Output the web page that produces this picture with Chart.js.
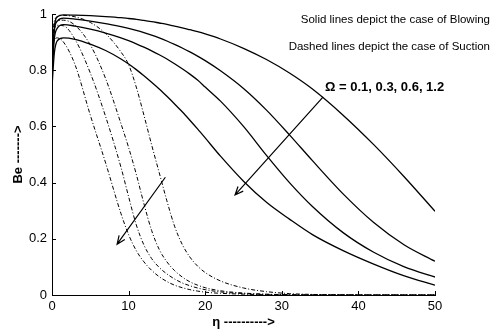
<!DOCTYPE html>
<html>
<head>
<meta charset="utf-8">
<script src="https://cdn.jsdelivr.net/npm/chart.js@4.4.1/dist/chart.umd.min.js"></script>
<style>
  html, body { margin: 0; padding: 0; background: #fff; }
</style>
</head>
<body>
<canvas id="be" width="495" height="330"></canvas>
<script>
// eta grid shared by every curve
const eta = [0, 0.3, 0.7, 1.5, 3, 5, 7, 9, 10, 11, 12, 13, 14, 15, 16, 17, 18, 19, 20, 22, 25, 28, 31, 34, 38, 42, 46, 50];

// blowing (solid), omega = 0.1, 0.3, 0.6, 1.2
const blow01 = [0.80, 0.95, 0.99, 0.997, 0.996, 0.994, 0.991, 0.987, 0.984, 0.981, 0.977, 0.973, 0.968, 0.963, 0.957, 0.951, 0.944, 0.937, 0.929, 0.911, 0.878, 0.838, 0.79, 0.733, 0.64, 0.535, 0.42, 0.298];
const blow03 = [0.80, 0.94, 0.975, 0.985, 0.982, 0.975, 0.966, 0.955, 0.949, 0.942, 0.934, 0.925, 0.915, 0.904, 0.892, 0.879, 0.865, 0.85, 0.834, 0.798, 0.735, 0.658, 0.57, 0.478, 0.36, 0.258, 0.178, 0.12];
const blow06 = [0.78, 0.91, 0.95, 0.962, 0.957, 0.946, 0.932, 0.915, 0.905, 0.894, 0.882, 0.869, 0.855, 0.84, 0.823, 0.805, 0.786, 0.765, 0.74, 0.69, 0.6, 0.497, 0.40, 0.315, 0.222, 0.152, 0.10, 0.064];
const blow12 = [0.74, 0.86, 0.905, 0.915, 0.91, 0.893, 0.87, 0.84, 0.822, 0.802, 0.78, 0.757, 0.733, 0.707, 0.68, 0.652, 0.622, 0.591, 0.559, 0.494, 0.405, 0.33, 0.27, 0.215, 0.158, 0.11, 0.068, 0.035];

// suction (dash-dot), omega = 0.1, 0.3, 0.6, 1.2
const suck01 = [0.92, 0.975, 0.99, 0.995, 0.99, 0.97, 0.93, 0.865, 0.82, 0.74, 0.64, 0.535, 0.435, 0.335, 0.245, 0.18, 0.135, 0.103, 0.08, 0.05, 0.025, 0.012, 0.005, 0.002, 0.001, 0, 0, 0];
const suck03 = [0.90, 0.96, 0.975, 0.978, 0.96, 0.89, 0.77, 0.61, 0.525, 0.43, 0.325, 0.23, 0.162, 0.118, 0.087, 0.064, 0.047, 0.035, 0.026, 0.015, 0.007, 0.003, 0.001, 0, 0, 0, 0, 0];
const suck06 = [0.88, 0.945, 0.96, 0.958, 0.91, 0.79, 0.635, 0.455, 0.35, 0.25, 0.178, 0.13, 0.098, 0.075, 0.057, 0.043, 0.033, 0.025, 0.019, 0.011, 0.005, 0.002, 0.001, 0, 0, 0, 0, 0];
const suck12 = [0.85, 0.905, 0.915, 0.90, 0.82, 0.64, 0.47, 0.29, 0.215, 0.158, 0.118, 0.088, 0.065, 0.048, 0.035, 0.026, 0.019, 0.014, 0.01, 0.006, 0.003, 0.001, 0, 0, 0, 0, 0, 0];

const omegas = ['0.1', '0.3', '0.6', '1.2'];

// arrows in data units: [eta from, Be from, eta to, Be to]
const blowArrow = [35.4, 0.705, 23.9, 0.356];
const suckArrow = [14.8, 0.419, 8.5, 0.181];

const pts = ys => ys.map((v, i) => ({x: eta[i], y: v}));

const solid = (ys, om) => ({
    label: 'Blowing ' + om, data: pts(ys),
    borderColor: '#000', borderWidth: 1.3, pointRadius: 0,
    cubicInterpolationMode: 'monotone', fill: false
});
const dashed = (ys, om) => ({
    label: 'Suction ' + om, data: pts(ys),
    borderColor: '#000', borderWidth: 1, borderDash: [4, 2, 1, 2], pointRadius: 0,
    cubicInterpolationMode: 'monotone', fill: false
});

function arrow(ctx, x, y, a) {
    const x0 = x.getPixelForValue(a[0]), y0 = y.getPixelForValue(a[1]);
    const x1 = x.getPixelForValue(a[2]), y1 = y.getPixelForValue(a[3]);
    const ang = Math.atan2(y1 - y0, x1 - x0);
    ctx.beginPath();
    ctx.moveTo(x0, y0);
    ctx.lineTo(x1, y1);
    ctx.moveTo(x1 - 9 * Math.cos(ang - 0.4), y1 - 9 * Math.sin(ang - 0.4));
    ctx.lineTo(x1, y1);
    ctx.lineTo(x1 - 9 * Math.cos(ang + 0.4), y1 - 9 * Math.sin(ang + 0.4));
    ctx.stroke();
}

const extras = {
    id: 'extras',
    afterDraw(chart) {
        const {ctx, chartArea: ca, scales: {x, y}} = chart;
        ctx.save();
        ctx.strokeStyle = '#000';
        ctx.lineWidth = 1;
        // MATLAB style inward ticks
        x.ticks.forEach(t => {
            const px = Math.round(x.getPixelForValue(t.value)) + 0.5;
            ctx.beginPath(); ctx.moveTo(px, ca.bottom); ctx.lineTo(px, ca.bottom - 4); ctx.stroke();
        });
        y.ticks.forEach(t => {
            const py = Math.round(y.getPixelForValue(t.value)) + 0.5;
            ctx.beginPath(); ctx.moveTo(ca.left, py); ctx.lineTo(ca.left + 4, py); ctx.stroke();
        });
        ctx.lineWidth = 1.2;
        arrow(ctx, x, y, blowArrow);
        arrow(ctx, x, y, suckArrow);

        ctx.fillStyle = '#000';
        ctx.textAlign = 'right';
        ctx.textBaseline = 'middle';
        ctx.font = '11.5px "Liberation Sans", Arial, sans-serif';
        ctx.fillText('Solid lines depict the case of Blowing', 490, 20);
        ctx.fillText('Dashed lines depict the case of Suction', 490, 47);
        ctx.textAlign = 'left';
        ctx.font = 'bold 13px "Liberation Sans", Arial, sans-serif';
        ctx.fillText('\u03A9 = ' + omegas.join(', '), 325, 87);
        ctx.restore();
    }
};

new Chart(document.getElementById('be'), {
    type: 'line',
    data: {
        datasets: [
            solid(blow01, omegas[0]), solid(blow03, omegas[1]), solid(blow06, omegas[2]), solid(blow12, omegas[3]),
            dashed(suck01, omegas[0]), dashed(suck03, omegas[1]), dashed(suck06, omegas[2]), dashed(suck12, omegas[3])
        ]
    },
    options: {
        responsive: false,
        animation: false,
        layout: { padding: { top: 14, right: 60, bottom: 0, left: 0 } },
        plugins: { legend: { display: false }, tooltip: { enabled: false } },
        scales: {
            x: {
                type: 'linear', min: 0, max: 50,
                ticks: { stepSize: 10, color: '#000', padding: 4, maxRotation: 0,
                         font: { family: '"Liberation Sans", Arial, sans-serif', size: 13 } },
                grid: { display: false, drawTicks: false },
                border: { display: true, color: '#000', width: 1 },
                title: { display: true, text: '\u03B7 ---------->', color: '#000',
                         font: { family: '"Liberation Sans", Arial, sans-serif', size: 13, weight: 'bold' },
                         padding: { top: 0, bottom: 0 } },
                afterFit: s => { s.height = 35; }
            },
            y: {
                min: 0, max: 1,
                ticks: { stepSize: 0.2, color: '#000', padding: 5,
                         callback: v => String(+v.toFixed(1)),
                         font: { family: '"Liberation Sans", Arial, sans-serif', size: 13 } },
                grid: { display: false, drawTicks: false },
                border: { display: true, color: '#000', width: 1 },
                title: { display: true, text: 'Be ------->', color: '#000',
                         font: { family: '"Liberation Sans", Arial, sans-serif', size: 13, weight: 'bold' },
                         padding: { top: 11, bottom: 0 } },
                afterFit: s => { s.width = 52; }
            }
        }
    },
    plugins: [extras]
});
</script>
</body>
</html>
